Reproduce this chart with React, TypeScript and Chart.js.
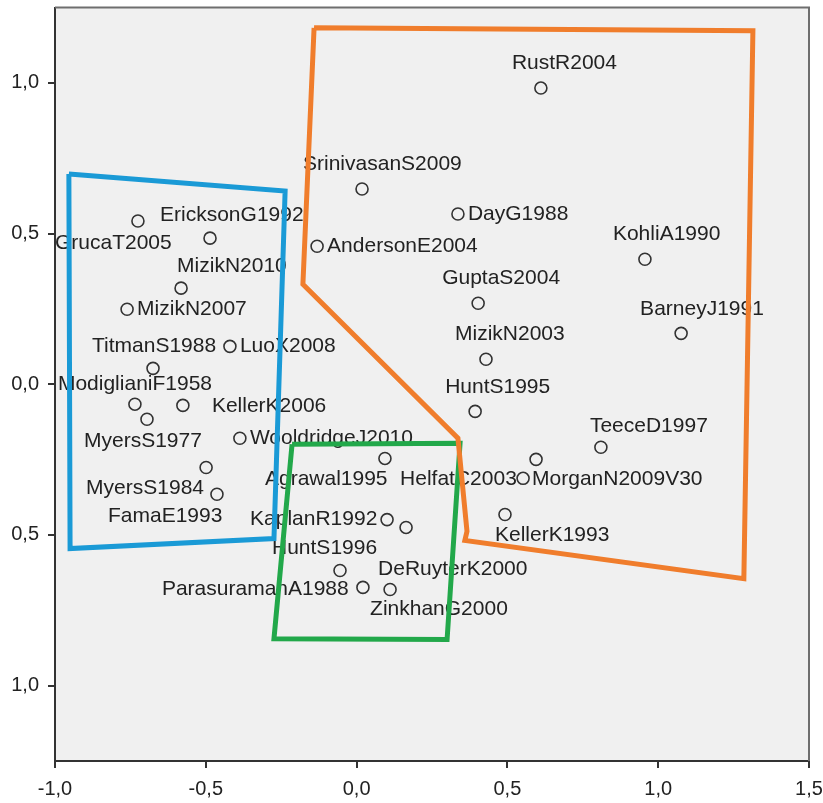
import React, { useEffect, useRef } from 'react';
import { Chart, registerables } from 'chart.js';

Chart.register(...registerables);

// ---- data ----
const studyNames = [
  'RustR2004', 'SrinivasanS2009', 'DayG1988', 'AndersonE2004', 'KohliA1990',
  'GuptaS2004', 'BarneyJ1991', 'MizikN2003', 'HuntS1995', 'TeeceD1997',
  'MorganN2009V30', 'HelfatC2003', 'KellerK1993', 'Agrawal1995', 'KaplanR1992',
  'DeRuyterK2000', 'HuntS1996', 'ParasuramanA1988', 'ZinkhanG2000',
  'EricksonG1992', 'GrucaT2005', 'MizikN2010', 'MizikN2007', 'TitmanS1988',
  'LuoX2008', 'ModiglianiF1958', 'KellerK2006', 'MyersS1977', 'WooldridgeJ2010',
  'MyersS1984', 'FamaE1993',
];
const dim1 = [
  0.611, 0.018, 0.336, -0.131, 0.956,
  0.403, 1.076, 0.429, 0.393, 0.810,
  0.595, 0.552, 0.492, 0.094, 0.101,
  0.164, -0.055, 0.021, 0.111,
  -0.486, -0.725, -0.582, -0.761, -0.675,
  -0.420, -0.735, -0.576, -0.695, -0.387,
  -0.499, -0.463,
];
const dim2 = [
  0.983, 0.648, 0.565, 0.458, 0.415,
  0.269, 0.169, 0.083, -0.090, -0.209,
  -0.249, -0.312, -0.432, -0.246, -0.449,
  -0.475, -0.618, -0.674, -0.681,
  0.485, 0.542, 0.319, 0.249, 0.053,
  0.126, -0.066, -0.070, -0.116, -0.179,
  -0.276, -0.365,
];

// label placement relative to each marker (layout, px)
const labelOffsets: [number, number][] = [
  [-29, -25], [-59, -25], [10, 0], [10, 0], [-32, -25],
  [-36, -25], [-41, -24], [-31, -25], [-30, -24], [-11, -21],
  [-4, 20], [-123, 1], [-10, 21], [-120, 21], [-137, 0],
  [-28, 42], [-68, -22], [-201, 2], [-20, 20],
  [-50, -23], [-83, 22], [-4, -22], [10, 0], [-61, -22],
  [10, 0], [-77, -20], [29, 1], [-63, 22], [10, 0],
  [-120, 21], [-109, 22],
];

// hand-drawn cluster outlines (data coordinates)
const orangeX = [-0.141, 1.314, 1.284, 0.359, 0.366, 0.336, -0.178, -0.141];
const orangeY = [1.183, 1.173, -0.645, -0.518, -0.488, -0.179, 0.332, 1.183];
const blueX = [-0.954, -0.237, -0.274, -0.950, -0.954];
const blueY = [0.698, 0.641, -0.512, -0.545, 0.698];
const greenX = [-0.214, 0.343, 0.300, -0.274, -0.214];
const greenY = [-0.199, -0.196, -0.847, -0.844, -0.199];

const xTickValues = [-1, -0.5, 0, 0.5, 1, 1.5];
const xTickLabels = ['-1,0', '-0,5', '0,0', '0,5', '1,0', '1,5'];
const yTickValues = [-1, -0.5, 0, 0.5, 1];
const yTickLabels = ['1,0', '0,5', '0,0', '0,5', '1,0'];

const FONT = '"Liberation Sans", Arial, sans-serif';

const toPts = (xs: number[], ys: number[]) => xs.map((x, i) => ({ x, y: ys[i] }));

export default function App() {
  const ref = useRef<HTMLCanvasElement | null>(null);

  useEffect(() => {
    if (!ref.current) return;

    const framePlugin = {
      id: 'frame',
      beforeDraw(chart: any) {
        const { ctx, chartArea: a } = chart;
        ctx.save();
        ctx.fillStyle = '#ffffff';
        ctx.fillRect(0, 0, chart.width, chart.height);
        ctx.fillStyle = '#f0f0f0';
        ctx.fillRect(a.left, a.top, a.right - a.left, a.bottom - a.top);
        ctx.restore();
      },
      afterDraw(chart: any) {
        const { ctx, chartArea: a } = chart;
        ctx.save();
        ctx.strokeStyle = '#6e6e6e';
        ctx.lineWidth = 2;
        ctx.beginPath();
        ctx.moveTo(a.left, a.top);
        ctx.lineTo(a.right, a.top);
        ctx.lineTo(a.right, a.bottom);
        ctx.stroke();
        ctx.restore();
      },
    };

    const labelPlugin = {
      id: 'pointLabels',
      afterDatasetDraw(chart: any, args: any) {
        if (args.index !== 0) return;
        const { ctx } = chart;
        const xs = chart.scales.x;
        const ys = chart.scales.y;
        ctx.save();
        ctx.font = `21px ${FONT}`;
        ctx.fillStyle = '#222222';
        ctx.textAlign = 'left';
        ctx.textBaseline = 'middle';
        studyNames.forEach((name, i) => {
          const px = xs.getPixelForValue(dim1[i]);
          const py = ys.getPixelForValue(dim2[i]);
          const [dx, dy] = labelOffsets[i];
          ctx.fillText(name, px + dx, py + dy);
        });
        ctx.restore();
      },
    };

    const polygon = (xs: number[], ys: number[], color: string) => ({
      type: 'line' as const,
      data: toPts(xs, ys),
      borderColor: color,
      borderWidth: 5,
      pointRadius: 0,
      fill: false,
      tension: 0,
      showLine: true,
      order: 0,
      borderJoinStyle: 'miter' as const,
    });

    const chart = new Chart(ref.current, {
      type: 'scatter',
      data: {
        datasets: [
          {
            data: toPts(dim1, dim2),
            pointRadius: 6,
            pointHoverRadius: 6,
            pointBorderWidth: 1.6,
            borderColor: '#333333',
            backgroundColor: 'rgba(0,0,0,0)',
            pointStyle: 'circle',
            order: 10,
          } as any,
          polygon(orangeX, orangeY, '#f07d2c'),
          polygon(blueX, blueY, '#1a9ad6'),
          polygon(greenX, greenY, '#22a84a'),
        ],
      },
      options: {
        responsive: false,
        animation: false,
        devicePixelRatio: 1,
        layout: { padding: { left: 0, top: 7, right: 14, bottom: 0 } },
        plugins: {
          legend: { display: false },
          tooltip: { enabled: false },
          title: { display: false },
        },
        scales: {
          x: {
            type: 'linear',
            min: -1,
            max: 1.5,
            afterBuildTicks: (s: any) => {
              s.ticks = xTickValues.map((v) => ({ value: v }));
            },
            afterFit: (s: any) => {
              s.height = 42;
              s.paddingLeft = 0;
              s.paddingRight = 0;
            },
            ticks: {
              autoSkip: false,
              maxRotation: 0,
              padding: 9,
              color: '#222222',
              font: { family: FONT, size: 20 },
              callback: (v: any) => xTickLabels[xTickValues.indexOf(Number(v))],
            },
            grid: {
              drawOnChartArea: false,
              drawTicks: true,
              tickLength: 7,
              color: '#333333',
              lineWidth: 2,
            },
            border: { display: true, color: '#333333', width: 2 },
          },
          y: {
            type: 'linear',
            min: -1.25,
            max: 1.25,
            afterBuildTicks: (s: any) => {
              s.ticks = yTickValues.map((v) => ({ value: v }));
            },
            afterFit: (s: any) => {
              s.width = 55;
              s.paddingTop = 0;
              s.paddingBottom = 0;
            },
            ticks: {
              autoSkip: false,
              padding: 9,
              color: '#222222',
              font: { family: FONT, size: 20 },
              callback: (v: any) => yTickLabels[yTickValues.indexOf(Number(v))],
            },
            grid: {
              drawOnChartArea: false,
              drawTicks: true,
              tickLength: 7,
              color: '#333333',
              lineWidth: 2,
            },
            border: { display: true, color: '#333333', width: 2 },
          },
        },
      } as any,
      plugins: [framePlugin, labelPlugin],
    });

    return () => chart.destroy();
  }, []);

  return (
    <div style={{ position: 'fixed', left: 0, top: 0, width: 823, height: 803, background: '#ffffff' }}>
      <canvas ref={ref} width={823} height={803} style={{ display: 'block', width: 823, height: 803 }} />
    </div>
  );
}
